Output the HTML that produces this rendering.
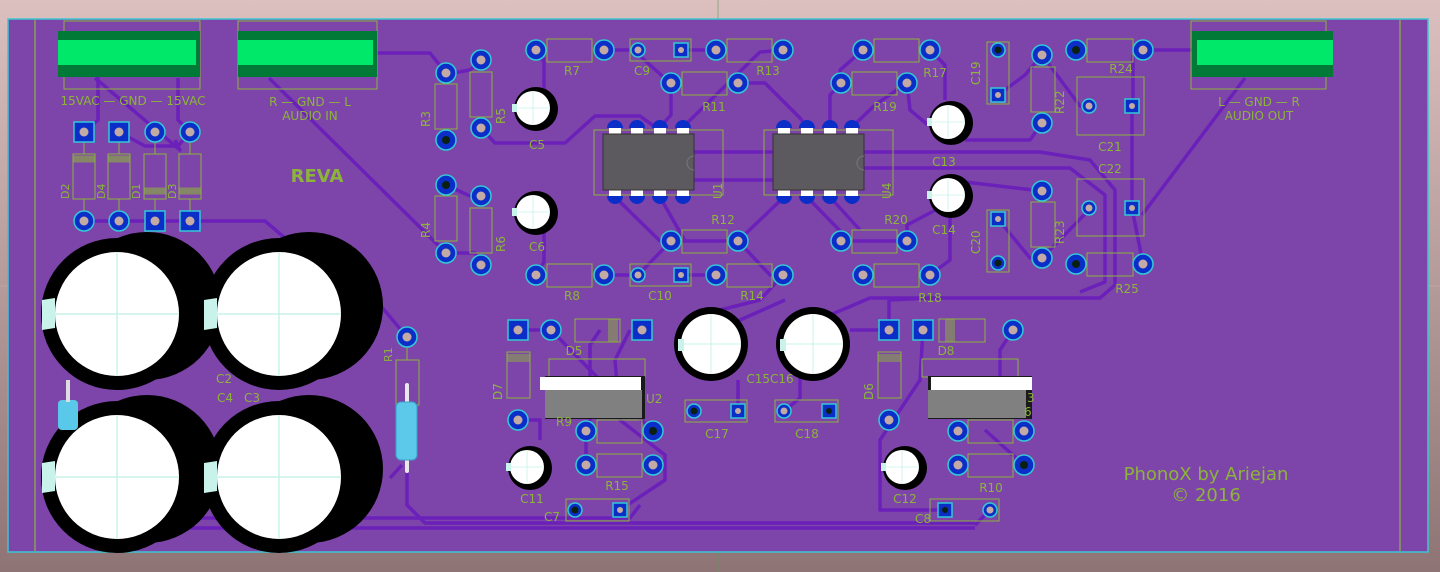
<!DOCTYPE html>
<html><head><meta charset="utf-8">
<style>
html,body{margin:0;padding:0;width:1440px;height:572px;overflow:hidden;background:#b89a9a}
svg{display:block}
text{font-family:"DejaVu Sans","Liberation Sans",sans-serif;fill:#8cb43a}
</style></head><body>
<svg width="1440" height="572" viewBox="0 0 1440 572" xmlns="http://www.w3.org/2000/svg">
<defs>
<linearGradient id="bg" x1="0" y1="0" x2="0" y2="1">
<stop offset="0" stop-color="#dcc0c0"/><stop offset="1" stop-color="#8e7474"/></linearGradient>
<g id="rp"><circle r="10" fill="#0c2ec8" stroke="#33c9d6" stroke-width="1.5"/><circle r="4.5" fill="#c4aaa4"/></g>
<g id="rd"><circle r="10" fill="#0c2ec8" stroke="#33c9d6" stroke-width="1.5"/><circle r="4" fill="#0a2010"/></g>
<g id="sp"><rect x="-10" y="-10" width="20" height="20" fill="#0c2ec8" stroke="#33c9d6" stroke-width="1.5"/><circle r="4.5" fill="#c4aaa4"/></g>
<g id="sd"><rect x="-10" y="-10" width="20" height="20" fill="#0c2ec8" stroke="#33c9d6" stroke-width="1.5"/><circle r="4" fill="#0a2010"/></g>
<g id="srp"><circle r="7" fill="#0c2ec8" stroke="#33c9d6" stroke-width="1.5"/><circle r="3.5" fill="#c4aaa4"/></g>
<g id="srd"><circle r="7" fill="#0c2ec8" stroke="#33c9d6" stroke-width="1.5"/><circle r="3.5" fill="#0a2010"/></g>
<g id="ssp"><rect x="-7" y="-7" width="14" height="14" fill="#0c2ec8" stroke="#33c9d6" stroke-width="1.5"/><circle r="3" fill="#c4aaa4"/></g>
<g id="ssd"><rect x="-7" y="-7" width="14" height="14" fill="#0c2ec8" stroke="#33c9d6" stroke-width="1.5"/><circle r="3" fill="#0a2010"/></g>
<g id="bigcap">
<circle cx="0" cy="0" r="76" fill="#000"/><circle cx="30" cy="-8" r="74" fill="#000"/>
<path d="M-75,-14 L-62,-16 L-62,14 L-75,16 Z" fill="#c8f2ea"/>
<circle cx="0" cy="0" r="62" fill="#fff"/>
<line x1="-62" y1="0" x2="62" y2="0" stroke="#c8f2ea" stroke-width="1.5"/>
<line x1="0" y1="-62" x2="0" y2="62" stroke="#c8f2ea" stroke-width="1.5"/>
</g>
<g id="smcap">
<circle cx="3" cy="1" r="22" fill="#000"/><circle cx="0" cy="0" r="17" fill="#fff"/>
<rect x="-21" y="-4" width="5" height="8" fill="#c8f2ea"/>
<line x1="-17" y1="0" x2="17" y2="0" stroke="#c8f2ea" stroke-width="0.8"/><line x1="0" y1="-17" x2="0" y2="17" stroke="#c8f2ea" stroke-width="0.8"/>
</g>
<g id="medcap">
<circle r="37" fill="#000"/><circle r="30" fill="#fff"/>
<rect x="-33" y="-5" width="6" height="12" fill="#c8f2ea"/>
<line x1="-30" y1="0" x2="30" y2="0" stroke="#c8f2ea" stroke-width="1"/><line x1="0" y1="-30" x2="0" y2="30" stroke="#c8f2ea" stroke-width="1"/>
</g>
</defs>
<rect width="1440" height="572" fill="url(#bg)"/>
<g stroke="#c9a9a9" stroke-width="1" opacity="0.6">
<line x1="0" y1="286" x2="1440" y2="286"/><line x1="718" y1="0" x2="718" y2="572" stroke="#5a9a5a"/>
</g>
<!-- board -->
<rect x="8" y="19" width="1420" height="533" fill="#7d45aa" stroke="#3cc6cf" stroke-width="1.5"/>
<g fill="none" stroke="#8cb43a" stroke-width="1.2">
<line x1="35" y1="20" x2="35" y2="551"/><line x1="1400" y1="20" x2="1400" y2="551"/>
</g>
<!-- traces -->
<g fill="none" stroke="#6a1fba" stroke-width="3.5" stroke-linejoin="round" opacity="0.95">
<polyline points="98,77 98,120 84,132"/>
<polyline points="95,78 180,150 175,140"/>
<polyline points="119,132 145,146 178,146 190,132"/>
<polyline points="178,78 178,120 190,132"/>
<polyline points="84,221 190,221 265,221 285,238"/>
<polyline points="269,78 445,252"/>
<polyline points="377,53 430,53 446,73"/>
<polyline points="453,73 470,70 481,60"/>
<polyline points="446,185 470,196 481,196"/>
<polyline points="446,253 475,253 481,265"/>
<polyline points="481,128 495,143 565,143 595,116 640,116 655,127"/>
<polyline points="536,50 544,62 544,105"/>
<polyline points="604,50 638,50"/>
<polyline points="681,50 716,50"/>
<polyline points="640,56 670,83"/>
<polyline points="671,83 671,115 660,127"/>
<polyline points="683,127 760,52 783,50"/>
<polyline points="738,83 765,83 800,118 807,127"/>
<polyline points="693,152 773,152"/>
<polyline points="693,180 773,180"/>
<polyline points="863,152 960,152 1040,152 1090,160 1115,190 1115,285 1100,298 870,298 830,315 813,320"/>
<polyline points="863,168 1070,168 1105,195 1105,282 1080,292"/>
<polyline points="830,127 830,95 841,83"/>
<polyline points="852,127 875,105 907,83"/>
<polyline points="863,50 840,70 840,83"/>
<polyline points="930,50 945,65 945,100"/>
<polyline points="907,83 910,110 928,125"/>
<polyline points="998,95 1025,75 1042,55"/>
<polyline points="1042,123 1030,140 965,140"/>
<polyline points="1042,191 965,182"/>
<polyline points="998,219 1030,258 1042,258 1089,210"/>
<polyline points="1042,55 1080,106 1089,106"/>
<polyline points="1143,50 1195,50"/>
<polyline points="1133,55 1133,106"/>
<polyline points="1132,208 1143,264"/>
<polyline points="1142,215 1245,78"/>
<polyline points="1132,208 1132,106"/>
<polyline points="615,197 660,241 715,241 738,241"/>
<polyline points="660,197 685,241"/>
<polyline points="638,275 671,241"/>
<polyline points="604,275 638,275"/>
<polyline points="681,275 716,275"/>
<polyline points="738,241 784,197"/>
<polyline points="738,241 770,275 783,275"/>
<polyline points="807,197 850,241 907,241"/>
<polyline points="830,197 860,230"/>
<polyline points="907,241 907,225 945,205"/>
<polyline points="930,275 950,260 950,215"/>
<polyline points="536,275 544,262 544,230"/>
<polyline points="536,50 545,60"/>
<polyline points="783,275 760,300 720,310"/>
<polyline points="528,330 551,330"/>
<polyline points="551,330 600,380 653,431"/>
<polyline points="600,330 590,345 590,420 586,431 586,465"/>
<polyline points="630,330 615,360 620,420 665,455 665,480 620,510"/>
<polyline points="518,420 540,420 540,440"/>
<polyline points="785,300 740,320 711,344"/>
<polyline points="738,411 738,380"/>
<polyline points="784,411 800,398 800,370"/>
<polyline points="850,330 889,330"/>
<polyline points="889,330 889,300 930,298"/>
<polyline points="923,330 920,380 880,440 880,470"/>
<polyline points="1013,330 1000,350 1000,405"/>
<polyline points="990,510 975,525"/>
<polyline points="945,510 880,510 880,470"/>
<polyline points="1024,465 985,430"/>
<polyline points="190,528 975,528"/>
<polyline points="407,470 407,505 425,523 975,523"/>
<polyline points="380,305 407,337"/>
<polyline points="390,478 402,465"/>
<polyline points="190,518 630,518 640,505"/>
</g>
<!-- big caps -->
<use href="#bigcap" x="117" y="314"/>
<use href="#bigcap" x="279" y="314"/>
<use href="#bigcap" x="117" y="477"/>
<use href="#bigcap" x="279" y="477"/>
<text x="216" y="383" font-size="12">C2</text>
<text x="217" y="402" font-size="12">C4</text>
<text x="244" y="402" font-size="12">C3</text>
<!-- R2 partial & R1 -->
<rect x="58" y="400" width="20" height="30" rx="4" fill="#5ac8e8"/>
<rect x="66" y="380" width="4" height="22" fill="#ddd"/>
<rect x="396" y="360" width="23" height="45" fill="none" stroke="#8cb43a" stroke-width="1"/>
<line x1="407" y1="347" x2="407" y2="360" stroke="#8cb43a"/>
<use href="#rp" x="407" y="337"/>
<rect x="405" y="383" width="4" height="90" rx="2" fill="#e8e8e8"/>
<rect x="396" y="402" width="21" height="58" rx="5" fill="#5cc8ea" stroke="#3aa0c8"/>
<text transform="translate(392,362) rotate(-90)" font-size="11">R1</text>
<!-- connectors -->
<g>
<rect x="64" y="21" width="136" height="68" fill="none" stroke="#8cb43a"/>
<rect x="58" y="31" width="142" height="46" fill="#007a36"/>
<rect x="58" y="40" width="138" height="25" fill="#00e86a"/>
<rect x="238" y="21" width="139" height="68" fill="none" stroke="#8cb43a"/>
<rect x="238" y="31" width="139" height="46" fill="#007a36"/>
<rect x="238" y="40" width="135" height="25" fill="#00e86a"/>
<rect x="1191" y="21" width="135" height="68" fill="none" stroke="#8cb43a"/>
<rect x="1192" y="31" width="141" height="46" fill="#007a36"/>
<rect x="1197" y="40" width="136" height="25" fill="#00e86a"/>
</g>
<text x="133" y="105" font-size="12" text-anchor="middle">15VAC — GND — 15VAC</text>
<text x="310" y="106" font-size="12" text-anchor="middle">R — GND — L</text>
<text x="310" y="120" font-size="12" text-anchor="middle">AUDIO IN</text>
<text x="1259" y="106" font-size="12" text-anchor="middle">L — GND — R</text>
<text x="1259" y="120" font-size="12" text-anchor="middle">AUDIO OUT</text>
<text x="317" y="182" font-size="18" font-weight="bold" text-anchor="middle">REVA</text>
<!-- bridge diodes -->
<g fill="none" stroke="#8cb43a" stroke-width="1">
<rect x="73" y="154" width="22" height="45"/><rect x="108" y="154" width="22" height="45"/>
<rect x="144" y="154" width="22" height="45"/><rect x="179" y="154" width="22" height="45"/>
<line x1="84" y1="142" x2="84" y2="154"/><line x1="119" y1="142" x2="119" y2="154"/><line x1="155" y1="142" x2="155" y2="154"/><line x1="190" y1="142" x2="190" y2="154"/>
<line x1="84" y1="199" x2="84" y2="211"/><line x1="119" y1="199" x2="119" y2="211"/><line x1="155" y1="199" x2="155" y2="211"/><line x1="190" y1="199" x2="190" y2="211"/>
<rect x="73" y="156" width="22" height="6" fill="#8cb43a" opacity="0.6"/><rect x="108" y="156" width="22" height="6" fill="#8cb43a" opacity="0.6"/>
<rect x="144" y="188" width="22" height="6" fill="#8cb43a" opacity="0.6"/><rect x="179" y="188" width="22" height="6" fill="#8cb43a" opacity="0.6"/>
</g>
<use href="#sp" x="84" y="132"/><use href="#sp" x="119" y="132"/><use href="#rp" x="155" y="132"/><use href="#rp" x="190" y="132"/>
<use href="#rp" x="84" y="221"/><use href="#rp" x="119" y="221"/><use href="#sp" x="155" y="221"/><use href="#sp" x="190" y="221"/>
<text transform="translate(69,199) rotate(-90)" font-size="11">D2</text>
<text transform="translate(105,199) rotate(-90)" font-size="11">D4</text>
<text transform="translate(140,199) rotate(-90)" font-size="11">D1</text>
<text transform="translate(176,199) rotate(-90)" font-size="11">D3</text>
<!-- silk rects -->
<g fill="none" stroke="#8cb43a" stroke-width="1">
<rect x="435" y="84" width="22" height="45"/><rect x="470" y="72" width="22" height="45"/>
<rect x="435" y="196" width="22" height="45"/><rect x="470" y="208" width="22" height="45"/>
<rect x="547" y="39" width="45" height="23"/><rect x="630" y="39" width="61" height="22"/><rect x="727" y="39" width="45" height="23"/>
<rect x="682" y="72" width="45" height="23"/>
<rect x="874" y="39" width="45" height="23"/><rect x="852" y="72" width="45" height="23"/>
<rect x="682" y="230" width="45" height="23"/><rect x="852" y="230" width="45" height="23"/>
<rect x="547" y="264" width="45" height="23"/><rect x="630" y="264" width="61" height="22"/><rect x="727" y="264" width="45" height="23"/><rect x="874" y="264" width="45" height="23"/>
<rect x="594" y="130" width="129" height="65"/><rect x="764" y="130" width="129" height="65"/>
<rect x="987" y="42" width="22" height="62"/><rect x="1031" y="67" width="24" height="45"/>
<rect x="1087" y="39" width="46" height="23"/><rect x="1077" y="77" width="67" height="58"/>
<rect x="1077" y="179" width="67" height="57"/><rect x="1031" y="202" width="24" height="45"/>
<rect x="987" y="210" width="22" height="62"/><rect x="1087" y="253" width="46" height="23"/>
<rect x="575" y="319" width="45" height="23"/><rect x="507" y="352" width="23" height="46"/>
<rect x="549" y="359" width="96" height="18"/>
<rect x="597" y="420" width="45" height="23"/><rect x="597" y="454" width="45" height="23"/>
<rect x="566" y="499" width="63" height="22"/>
<rect x="685" y="400" width="62" height="22"/><rect x="775" y="400" width="63" height="22"/>
<rect x="878" y="352" width="23" height="46"/><rect x="939" y="319" width="46" height="23"/>
<rect x="922" y="359" width="96" height="18"/>
<rect x="968" y="420" width="45" height="23"/><rect x="968" y="454" width="45" height="23"/>
<rect x="930" y="499" width="69" height="22"/>
</g>
<rect x="608" y="319" width="10" height="23" fill="#8cb43a" opacity="0.5"/>
<rect x="507" y="354" width="23" height="8" fill="#8cb43a" opacity="0.5"/>
<rect x="878" y="354" width="23" height="8" fill="#8cb43a" opacity="0.5"/>
<rect x="945" y="319" width="10" height="23" fill="#8cb43a" opacity="0.5"/>
<!-- ICs -->
<g fill="#fff">
<rect x="609" y="128" width="12" height="8"/><rect x="631" y="128" width="12" height="8"/><rect x="654" y="128" width="12" height="8"/><rect x="677" y="128" width="12" height="8"/>
<rect x="609" y="188" width="12" height="8"/><rect x="631" y="188" width="12" height="8"/><rect x="654" y="188" width="12" height="8"/><rect x="677" y="188" width="12" height="8"/>
<rect x="778" y="128" width="12" height="8"/><rect x="801" y="128" width="12" height="8"/><rect x="824" y="128" width="12" height="8"/><rect x="846" y="128" width="12" height="8"/>
<rect x="778" y="188" width="12" height="8"/><rect x="801" y="188" width="12" height="8"/><rect x="824" y="188" width="12" height="8"/><rect x="846" y="188" width="12" height="8"/>
</g>
<g fill="#0c2ec8">
<path d="M607,128 a8,8 0 0 1 16,0Z"/><path d="M629,128 a8,8 0 0 1 16,0Z"/><path d="M652,128 a8,8 0 0 1 16,0Z"/><path d="M675,128 a8,8 0 0 1 16,0Z"/>
<path d="M607,196 a8,8 0 0 0 16,0Z"/><path d="M629,196 a8,8 0 0 0 16,0Z"/><path d="M652,196 a8,8 0 0 0 16,0Z"/><path d="M675,196 a8,8 0 0 0 16,0Z"/>
<path d="M776,128 a8,8 0 0 1 16,0Z"/><path d="M799,128 a8,8 0 0 1 16,0Z"/><path d="M822,128 a8,8 0 0 1 16,0Z"/><path d="M844,128 a8,8 0 0 1 16,0Z"/>
<path d="M776,196 a8,8 0 0 0 16,0Z"/><path d="M799,196 a8,8 0 0 0 16,0Z"/><path d="M822,196 a8,8 0 0 0 16,0Z"/><path d="M844,196 a8,8 0 0 0 16,0Z"/>
</g>
<rect x="603" y="134" width="91" height="56" fill="#5c5a5e" stroke="#333"/>
<rect x="773" y="134" width="91" height="56" fill="#5c5a5e" stroke="#333"/>
<path d="M694,156 a7,7 0 0 0 0,14" fill="none" stroke="#777"/>
<path d="M864,156 a7,7 0 0 0 0,14" fill="none" stroke="#777"/>
<!-- small caps -->
<use href="#smcap" x="533" y="108"/><use href="#smcap" x="533" y="212"/>
<use href="#smcap" x="948" y="122"/><use href="#smcap" x="948" y="195"/>
<use href="#smcap" x="527" y="467"/><use href="#smcap" x="902" y="467"/>
<use href="#medcap" x="711" y="344"/><use href="#medcap" x="813" y="344"/>
<!-- regulators -->
<rect x="545" y="376" width="100" height="43" fill="#1a1a1a"/>
<rect x="540" y="377" width="101" height="13" fill="#fff"/>
<rect x="545" y="390" width="97" height="28" fill="#808080"/>
<rect x="928" y="376" width="104" height="43" fill="#1a1a1a"/>
<rect x="931" y="377" width="101" height="13" fill="#fff"/>
<rect x="928" y="390" width="98" height="28" fill="#808080"/>
<!-- pads -->
<use href="#rp" x="446" y="73"/><use href="#rd" x="446" y="140"/><use href="#rp" x="481" y="60"/><use href="#rp" x="481" y="128"/>
<use href="#rd" x="446" y="185"/><use href="#rp" x="446" y="253"/><use href="#rp" x="481" y="196"/><use href="#rp" x="481" y="265"/>
<use href="#rp" x="536" y="50"/><use href="#rp" x="604" y="50"/><use href="#srp" x="638" y="50"/><use href="#ssp" x="681" y="50"/><use href="#rp" x="716" y="50"/><use href="#rp" x="783" y="50"/>
<use href="#rp" x="671" y="83"/><use href="#rp" x="738" y="83"/>
<use href="#rp" x="863" y="50"/><use href="#rp" x="930" y="50"/><use href="#rp" x="841" y="83"/><use href="#rp" x="907" y="83"/>
<use href="#rp" x="671" y="241"/><use href="#rp" x="738" y="241"/><use href="#rp" x="841" y="241"/><use href="#rp" x="907" y="241"/>
<use href="#rp" x="536" y="275"/><use href="#rp" x="604" y="275"/><use href="#srp" x="638" y="275"/><use href="#ssp" x="681" y="275"/><use href="#rp" x="716" y="275"/><use href="#rp" x="783" y="275"/>
<use href="#rp" x="863" y="275"/><use href="#rp" x="930" y="275"/>
<use href="#srd" x="998" y="50"/><use href="#ssp" x="998" y="95"/>
<use href="#rp" x="1042" y="55"/><use href="#rp" x="1042" y="123"/>
<use href="#rd" x="1076" y="50"/><use href="#rp" x="1143" y="50"/>
<use href="#srp" x="1089" y="106"/><use href="#ssp" x="1132" y="106"/>
<use href="#srp" x="1089" y="208"/><use href="#ssp" x="1132" y="208"/>
<use href="#rp" x="1042" y="191"/><use href="#rp" x="1042" y="258"/>
<use href="#ssp" x="998" y="219"/><use href="#srd" x="998" y="263"/>
<use href="#rd" x="1076" y="264"/><use href="#rp" x="1143" y="264"/>
<use href="#sp" x="518" y="330"/><use href="#rp" x="551" y="330"/><use href="#sp" x="642" y="330"/>
<use href="#rp" x="518" y="420"/>
<use href="#rp" x="586" y="431"/><use href="#rd" x="653" y="431"/><use href="#rp" x="586" y="465"/><use href="#rp" x="653" y="465"/>
<use href="#srd" x="575" y="510"/><use href="#ssp" x="620" y="510"/>
<use href="#srd" x="694" y="411"/><use href="#ssp" x="738" y="411"/>
<use href="#srp" x="784" y="411"/><use href="#ssd" x="829" y="411"/>
<use href="#sp" x="889" y="330"/><use href="#sp" x="923" y="330"/><use href="#rp" x="1013" y="330"/>
<use href="#rp" x="889" y="420"/>
<use href="#rp" x="958" y="431"/><use href="#rp" x="1024" y="431"/><use href="#rp" x="958" y="465"/><use href="#rd" x="1024" y="465"/>
<use href="#ssd" x="945" y="510"/><use href="#srp" x="990" y="510"/>
<!-- labels -->
<g font-size="12">
<text transform="translate(430,127) rotate(-90)">R3</text>
<text transform="translate(505,124) rotate(-90)">R5</text>
<text transform="translate(430,238) rotate(-90)">R4</text>
<text transform="translate(505,252) rotate(-90)">R6</text>
<text x="572" y="75" text-anchor="middle">R7</text>
<text x="642" y="75" text-anchor="middle">C9</text>
<text x="768" y="75" text-anchor="middle">R13</text>
<text x="714" y="111" text-anchor="middle">R11</text>
<text x="537" y="149" text-anchor="middle">C5</text>
<text x="537" y="251" text-anchor="middle">C6</text>
<text transform="translate(722,199) rotate(-90)">U1</text>
<text transform="translate(891,199) rotate(-90)">U4</text>
<text x="935" y="77" text-anchor="middle">R17</text>
<text x="885" y="111" text-anchor="middle">R19</text>
<text x="944" y="166" text-anchor="middle">C13</text>
<text x="944" y="234" text-anchor="middle">C14</text>
<text x="723" y="224" text-anchor="middle">R12</text>
<text x="896" y="224" text-anchor="middle">R20</text>
<text x="572" y="300" text-anchor="middle">R8</text>
<text x="660" y="300" text-anchor="middle">C10</text>
<text x="752" y="300" text-anchor="middle">R14</text>
<text x="930" y="302" text-anchor="middle">R18</text>
<text transform="translate(980,85) rotate(-90)">C19</text>
<text transform="translate(1064,114) rotate(-90)">R22</text>
<text x="1121" y="73" text-anchor="middle">R24</text>
<text x="1110" y="151" text-anchor="middle">C21</text>
<text x="1110" y="173" text-anchor="middle">C22</text>
<text transform="translate(1064,244) rotate(-90)">R23</text>
<text transform="translate(980,254) rotate(-90)">C20</text>
<text x="1127" y="293" text-anchor="middle">R25</text>
<text x="574" y="355" text-anchor="middle">D5</text>
<text transform="translate(502,400) rotate(-90)">D7</text>
<text x="646" y="403">U2</text>
<text x="556" y="426">R9</text>
<text x="617" y="490" text-anchor="middle">R15</text>
<text x="532" y="503" text-anchor="middle">C11</text>
<text x="552" y="521" text-anchor="middle">C7</text>
<text x="770" y="383" text-anchor="middle">C15C16</text>
<text x="717" y="438" text-anchor="middle">C17</text>
<text x="807" y="438" text-anchor="middle">C18</text>
<text transform="translate(873,400) rotate(-90)">D6</text>
<text x="946" y="355" text-anchor="middle">D8</text>
<text x="1027" y="402">3</text>
<text x="1024" y="416">6</text>
<text x="991" y="492" text-anchor="middle">R10</text>
<text x="905" y="503" text-anchor="middle">C12</text>
<text x="923" y="523" text-anchor="middle">C8</text>
</g>
<text x="1206" y="480" font-size="18" text-anchor="middle">PhonoX by Ariejan</text>
<text x="1206" y="501" font-size="18" text-anchor="middle">© 2016</text>
</svg>
</body></html>
